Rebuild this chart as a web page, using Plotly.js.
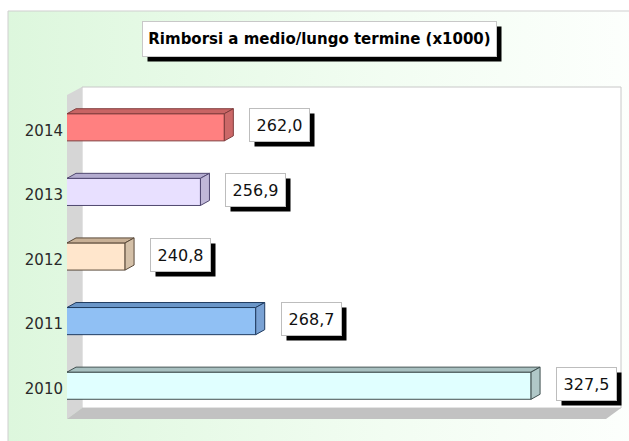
<!DOCTYPE html>
<html>
<head>
<meta charset="utf-8">
<script src="https://cdn.plot.ly/plotly-3.0.1.min.js"></script>
<style>html,body{margin:0;padding:0;background:#fff;}#chart{width:629px;height:441px;}</style>
</head>
<body>
<div id="chart"></div>
<script>
// ---- data ----
var years = ['2010', '2011', '2012', '2013', '2014'];
var values = [327.5, 268.7, 240.8, 256.9, 262.0];
var frontColors = ['#e0ffff', '#90c0f4', '#ffe6cc', '#e8e0ff', '#ff8080'];
var topColors   = ['#a8c0c0', '#6a96c8', '#c8b096', '#b4acd0', '#c86464'];
var sideColors  = ['#b0c8c8', '#7aa2d4', '#d4c0a8', '#c0b8d8', '#cc6868'];
var lineColors  = ['#405050', '#203c60', '#5a4a3a', '#504870', '#803c3c'];
var titleText = 'Rimborsi a medio/lungo termine (x1000)';

// ---- layout geometry ----
var W = 629, H = 441;
var L = 67, R = 606, T = 95, B = 418;           // front plane of the plot, px
var plotW = R - L, plotH = B - T;
var xRange = [228.4, 343.5];
var yRange = [-0.5, years.length - 0.5];
var barW = 0.42;
var depthX = 9, depthY = 5;                     // bar depth in px
var dx = depthX * (xRange[1] - xRange[0]) / plotW;
var dy = depthY * (yRange[1] - yRange[0]) / plotH;
function px(x) { return (x - L) / plotW; }
function py(y) { return (B - y) / plotH; }

var idx = years.map(function (_, i) { return i; });

var trace = {
  type: 'bar', orientation: 'h',
  x: values, y: idx, width: barW,
  marker: { color: frontColors, line: { color: lineColors, width: 1 } },
  hoverinfo: 'skip'
};

var shapes = [];
// outer frame
shapes.push({ type: 'rect', xref: 'paper', yref: 'paper', layer: 'below',
  x0: px(8), x1: px(640), y0: py(450), y1: py(11),
  line: { color: '#cfcfcf', width: 1 }, fillcolor: 'rgba(0,0,0,0)' });
// back wall of plot
shapes.push({ type: 'rect', xref: 'paper', yref: 'paper', layer: 'below',
  x0: px(82), x1: px(621), y0: py(408), y1: py(87),
  line: { color: '#c8c8c8', width: 1 }, fillcolor: '#ffffff' });
// left wall
shapes.push({ type: 'path', xref: 'paper', yref: 'paper', layer: 'below',
  path: 'M' + px(67) + ',' + py(95) + ' L' + px(82) + ',' + py(87) + ' L' + px(82) + ',' + py(408) + ' L' + px(67) + ',' + py(419) + ' Z',
  line: { width: 0 }, fillcolor: '#d6d6d6' });
// floor
shapes.push({ type: 'path', xref: 'paper', yref: 'paper', layer: 'below',
  path: 'M' + px(67) + ',' + py(419) + ' L' + px(82) + ',' + py(408) + ' L' + px(621) + ',' + py(408) + ' L' + px(606) + ',' + py(419) + ' Z',
  line: { width: 0 }, fillcolor: '#c2c2c2' });

// 3D faces of bars
values.forEach(function (v, i) {
  var yt = i + barW / 2, yb = i - barW / 2;
  var x0 = xRange[0];
  shapes.push({ type: 'path', xref: 'x', yref: 'y', layer: 'above',
    path: 'M' + x0 + ',' + yt + ' L' + (x0 + dx) + ',' + (yt + dy) + ' L' + (v + dx) + ',' + (yt + dy) + ' L' + v + ',' + yt + ' Z',
    fillcolor: topColors[i], line: { color: lineColors[i], width: 1 } });
  shapes.push({ type: 'path', xref: 'x', yref: 'y', layer: 'above',
    path: 'M' + v + ',' + yb + ' L' + v + ',' + yt + ' L' + (v + dx) + ',' + (yt + dy) + ' L' + (v + dx) + ',' + (yb + dy) + ' Z',
    fillcolor: sideColors[i], line: { color: lineColors[i], width: 1 } });
});

var annotations = [];
// title box with shadow
var tx = px(319.5), ty = py(39);
annotations.push({ xref: 'paper', yref: 'paper', x: tx, y: ty, xanchor: 'center', yanchor: 'middle',
  text: ' ', showarrow: false, width: 351, height: 32, bgcolor: '#000000', xshift: 5, yshift: -5 });
annotations.push({ xref: 'paper', yref: 'paper', x: tx, y: ty, xanchor: 'center', yanchor: 'middle',
  text: '<b>' + titleText + '</b>', showarrow: false, width: 351, height: 32,
  bgcolor: '#ffffff', bordercolor: '#c8c8c8', borderwidth: 1,
  font: { family: 'DejaVu Sans', size: 15, color: '#000000' } });

// value labels with shadow
values.forEach(function (v, i) {
  var txt = v.toFixed(1).replace('.', ',');
  annotations.push({ xref: 'x', yref: 'y', x: v, y: i, xanchor: 'left', yanchor: 'middle',
    xshift: 25 + 5, yshift: 2 - 5, text: ' ', showarrow: false, width: 57, height: 30, bgcolor: '#000000' });
  annotations.push({ xref: 'x', yref: 'y', x: v, y: i, xanchor: 'left', yanchor: 'middle',
    xshift: 25, yshift: 2, text: txt, showarrow: false, width: 57, height: 30,
    bgcolor: '#ffffff', bordercolor: '#bdbdbd', borderwidth: 1,
    font: { family: 'DejaVu Sans', size: 16, color: '#111111' } });
});

var bgSvg = '<svg xmlns="http://www.w3.org/2000/svg" width="100" height="100" preserveAspectRatio="none">' +
  '<defs><linearGradient id="g" x1="0" y1="0" x2="1" y2="0">' +
  '<stop offset="0" stop-color="#ddf7dd"/><stop offset="0.6" stop-color="#f2fdf2"/><stop offset="1" stop-color="#fdfffd"/>' +
  '</linearGradient></defs><rect width="100" height="100" fill="url(#g)"/></svg>';

var layout = {
  width: W, height: H,
  margin: { l: L, r: W - R, t: T, b: H - B, pad: 0 },
  paper_bgcolor: '#ffffff', plot_bgcolor: 'rgba(0,0,0,0)',
  showlegend: false,
  xaxis: { range: xRange, visible: false, fixedrange: true },
  yaxis: { range: yRange, tickvals: idx, ticktext: years, showgrid: false, zeroline: false,
    showline: false, ticks: '', ticklabelstandoff: 3, ticklabelshift: 3,
    tickfont: { family: 'DejaVu Sans', size: 15, color: '#2a2a2a' }, fixedrange: true },
  shapes: shapes,
  annotations: annotations,
  images: [{ source: 'data:image/svg+xml;charset=utf-8,' + encodeURIComponent(bgSvg),
    xref: 'paper', yref: 'paper', x: px(8), y: py(11), sizex: px(640) - px(8), sizey: py(11) - py(450),
    xanchor: 'left', yanchor: 'top', sizing: 'stretch', layer: 'below' }]
};

Plotly.newPlot('chart', [trace], layout, { displayModeBar: false, staticPlot: true });
</script>
</body>
</html>
